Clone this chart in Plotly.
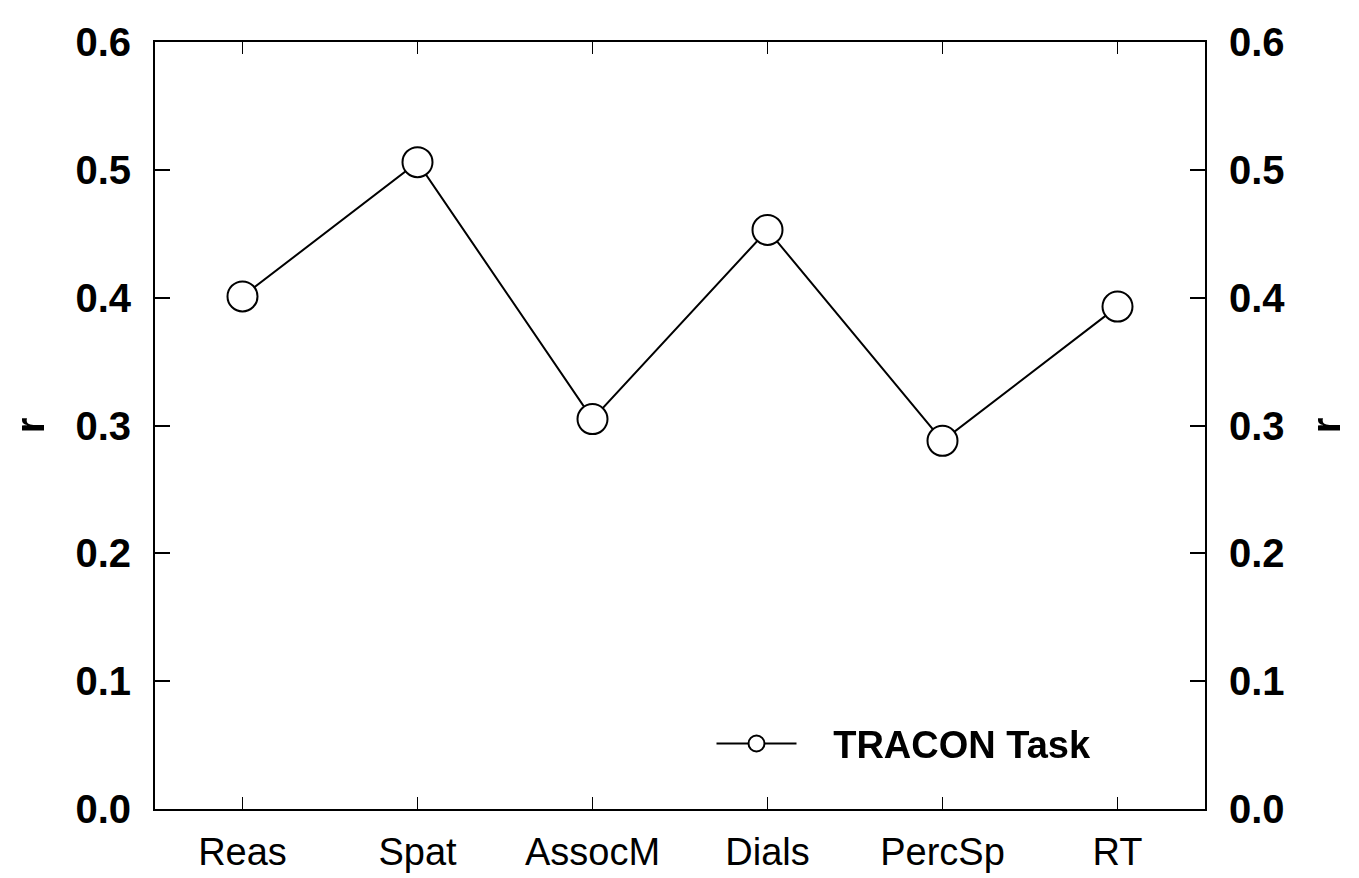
import plotly.graph_objects as go

tasks = ["Reas", "Spat", "AssocM", "Dials", "PercSp", "RT"]
r_vals = [0.401, 0.506, 0.305, 0.453, 0.288, 0.393]
y_ticks = [0.0, 0.1, 0.2, 0.3, 0.4, 0.5, 0.6]
y_labels = ["0.0", "0.1", "0.2", "0.3", "0.4", "0.5", "0.6"]

font = "Liberation Sans, Arial, sans-serif"

fig = go.Figure()
fig.add_trace(go.Scatter(
    x=tasks, y=r_vals, mode="lines+markers",
    name="&nbsp;&nbsp;&nbsp;<b>TRACON Task</b>",
    line=dict(color="black", width=2),
    marker=dict(symbol="circle", size=30, color="white",
                line=dict(color="black", width=2)),
))
# invisible copy so the right-hand axis is drawn
fig.add_trace(go.Scatter(
    x=tasks, y=r_vals, yaxis="y2", mode="markers", opacity=0,
    showlegend=False, hoverinfo="skip",
))

yax = dict(
    range=[0, 0.6], tickvals=y_ticks, ticktext=y_labels,
    ticks="inside", ticklen=15, tickwidth=1.5, tickcolor="black",
    showline=True, linecolor="black", linewidth=2, showgrid=False,
    zeroline=False, ticklabelstandoff=14,
    tickfont=dict(family=font, size=40, color="black", weight="bold"),
    title=dict(text="<b>r</b>", font=dict(family=font, size=40, color="black"), standoff=28),
)

fig.update_layout(
    width=1359, height=878,
    margin=dict(l=147, r=162, t=34, b=77),
    paper_bgcolor="white", plot_bgcolor="white",
    xaxis=dict(
        type="category", range=[-0.5, 5.5],
        ticks="inside", ticklen=12, tickwidth=1, tickcolor="black",
        showline=True, linecolor="black", linewidth=2, mirror="ticks",
        showgrid=False, ticklabelstandoff=8,
        tickfont=dict(family=font, size=38, color="black"),
    ),
    yaxis=yax,
    yaxis2=dict(yax, overlaying="y", side="right"),
    legend=dict(
        x=0.53, y=0.085, xanchor="left", yanchor="middle",
        bgcolor="rgba(0,0,0,0)", font=dict(family=font, size=38, color="black"),
        itemwidth=80,
    ),
    showlegend=True,
)

fig.write_html("out.html")
